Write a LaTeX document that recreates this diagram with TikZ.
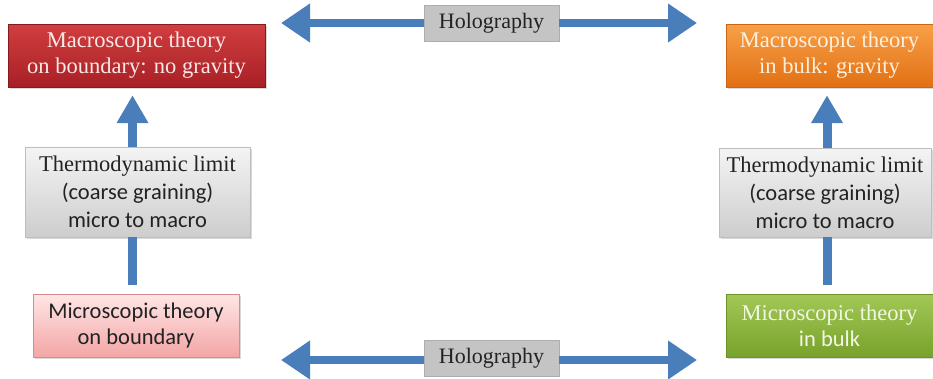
\documentclass[tikz,border=0pt]{standalone}
\usepackage{fontspec}
\setmainfont{Liberation Serif}
\newfontfamily\sansf{Carlito}
\usetikzlibrary{arrows.meta,shadows}
\definecolor{arrowblue}{HTML}{4A7EBB}
\definecolor{redtop}{HTML}{D03E40}
\definecolor{redbot}{HTML}{A82024}
\definecolor{redtxt}{HTML}{FAE8E8}
\definecolor{orgtop}{HTML}{F7A048}
\definecolor{orgbot}{HTML}{E27014}
\definecolor{orgtxt}{HTML}{FFF0DC}
\definecolor{grntop}{HTML}{A2C855}
\definecolor{grnbot}{HTML}{78A22C}
\definecolor{grntxt}{HTML}{F2F7E4}
\definecolor{pnktop}{HTML}{FFE6E6}
\definecolor{pnkbot}{HTML}{F3A6A6}
\definecolor{pnkdraw}{HTML}{D98A8A}
\definecolor{grytop}{HTML}{F4F4F4}
\definecolor{grybot}{HTML}{CDCDCD}
\definecolor{grydraw}{HTML}{BDBDBD}
\definecolor{holofill}{HTML}{C4C4C4}
\definecolor{holodraw}{HTML}{ADADAD}
\definecolor{darktxt}{HTML}{222222}
\begin{document}
\begin{tikzpicture}[x=1pt,y=-1pt,
  box/.style={rectangle, inner sep=0pt, align=center,
    drop shadow={shadow xshift=1.5pt,shadow yshift=-2pt,opacity=0.3}},
  twoline/.style={font=\fontsize{22.5}{26}\selectfont},
  threeline/.style={font=\fontsize{22.5}{28}\selectfont},
  redbox/.style={box, twoline, top color=redtop, bottom color=redbot, draw=redbot!80!black, text=redtxt},
  orgbox/.style={box, twoline, top color=orgtop, bottom color=orgbot, draw=orgbot!90!black, text=orgtxt},
  grnbox/.style={box, twoline, top color=grntop, bottom color=grnbot, draw=grnbot!90!black, text=grntxt},
  pnkbox/.style={box, twoline, top color=pnktop, bottom color=pnkbot, draw=pnkdraw, text=darktxt},
  grybox/.style={box, threeline, top color=grytop, bottom color=grybot, draw=grydraw, text=darktxt},
  holobox/.style={rectangle, inner sep=0pt, fill=holofill, draw=holodraw, text=darktxt,
    font=\fontsize{22}{26}\selectfont, minimum width=135pt, minimum height=36pt},
  harrow/.style={draw=arrowblue, line width=8pt, -{Triangle[length=29pt,width=37pt]}},
  varrow/.style={draw=arrowblue, line width=9pt, -{Triangle[length=28pt,width=30pt]}},
  vshaft/.style={draw=arrowblue, line width=9pt}
]
\useasboundingbox (0,0) rectangle (933,378);

% boxes
\node[redbox, minimum width=257pt, minimum height=63pt] (red) at (136.5,55.5)
  {Macroscopic theory\\on boundary: no gravity};
\node[orgbox, minimum width=207pt, minimum height=63pt] (org) at (829.5,55.5)
  {Macroscopic theory\\in bulk: gravity};
\node[grybox, minimum width=225pt, minimum height=90pt] (thL) at (137.5,192)
  {Thermodynamic limit\\{\sansf (coarse graining)}\\{\sansf micro to macro}};
\node[grybox, minimum width=212pt, minimum height=89pt] (thR) at (825,192.5)
  {Thermodynamic limit\\{\sansf (coarse graining)}\\{\sansf micro to macro}};
\node[pnkbox, minimum width=206pt, minimum height=63pt] (pnk) at (136,325.5)
  {\sansf Microscopic theory\\\sansf on boundary};
\node[grnbox, minimum width=207pt, minimum height=63pt] (grn) at (829.5,325.5)
  {Microscopic theory\\{\sansf in bulk}};
\node[holobox] (holoT) at (491.5,23) {Holography};
\node[holobox] (holoB) at (491.5,358) {Holography};

% free ends of the holography arrows
\coordinate (tl) at (281,23);
\coordinate (tr) at (697,23);
\coordinate (bl) at (281,360);
\coordinate (br) at (697,360);

\draw[harrow] (holoT.west) -- (tl);
\draw[harrow] (holoT.east) -- (tr);
\draw[harrow] (bl -| holoB.west) -- (bl);
\draw[harrow] (br -| holoB.east) -- (br);

% vertical arrows
\draw[vshaft, shorten <=9pt] ([xshift=-3.5pt]pnk.north) -- ([xshift=-5pt]thL.south);
\draw[varrow, shorten >=8pt] ([xshift=-5pt]thL.north) -- ([xshift=-4pt]red.south);
\draw[vshaft, shorten <=9pt] ([xshift=-2.5pt]grn.north) -- ([xshift=2pt]thR.south);
\draw[varrow, shorten >=8pt] ([xshift=2pt]thR.north) -- ([xshift=-2.5pt]org.south);
\end{tikzpicture}
\end{document}
